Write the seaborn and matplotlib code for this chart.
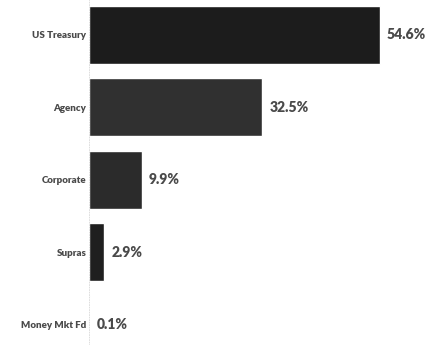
import matplotlib
matplotlib.use("Agg")
import matplotlib.pyplot as plt
import seaborn as sns
import pandas as pd

sectors = ["US Treasury", "Agency", "Corporate", "Supras", "Money Mkt Fd"]
weights = [54.6, 32.5, 9.9, 2.9, 0.1]
bar_colors = ["#1c1c1c", "#303030", "#2b2b2b", "#1f1f1f", "#555555"]

df = pd.DataFrame({"sector": sectors, "weight": weights})

sns.set_theme(style="white")
plt.rcParams["font.family"] = ["Lato", "DejaVu Sans"]

fig = plt.figure(figsize=(4.26, 3.45), dpi=100)
ax = fig.add_axes([89 / 426, 0.0, 1 - 89 / 426, 1.0])

sns.barplot(data=df, x="weight", y="sector", hue="sector", palette=bar_colors,
            orient="h", width=0.8, legend=False, ax=ax)

ax.set_xlim(0, 63.2)
ax.set_ylim(4.28, -0.48)
ax.set_xlabel("")
ax.set_ylabel("")
ax.set_xticks([])
for side in ["top", "right", "bottom"]:
    ax.spines[side].set_visible(False)
ax.spines["left"].set_color("#d8d8d8")
ax.spines["left"].set_linewidth(0.6)
ax.spines["left"].set_linestyle((0, (1, 2)))
ax.tick_params(axis="y", length=0, pad=2)
for lbl in ax.get_yticklabels():
    lbl.set_fontsize(7)
    lbl.set_fontweight("heavy")
    lbl.set_color("#4a4a4a")

for i, v in enumerate(weights):
    ax.text(v + 1.3, i, f"{v:.1f}%", va="center", ha="left",
            fontsize=10, fontweight="heavy", color="#4a4a4a")

fig.savefig("out.png", dpi=100, facecolor="white")
